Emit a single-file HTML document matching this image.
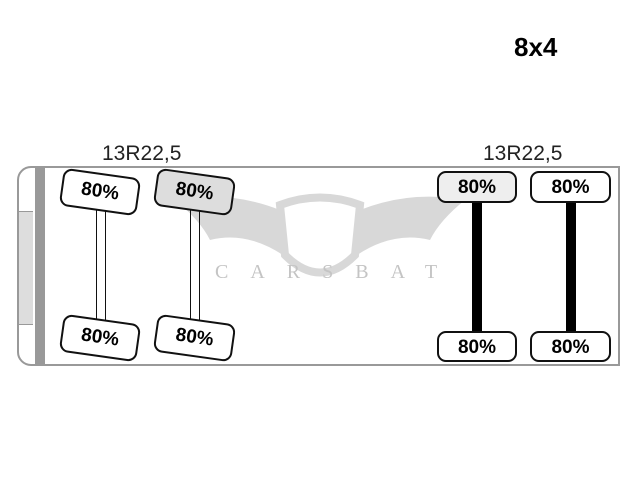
<!DOCTYPE html>
<html><head><style>
body{margin:0;width:640px;height:480px;background:#fff;position:relative;overflow:hidden;font-family:"Liberation Sans",sans-serif}
.a{position:absolute}
.t{position:absolute;border:2px solid #111;border-radius:9px;background:#fff;font:bold 19px "Liberation Sans",sans-serif;text-align:center;box-sizing:border-box}
</style></head><body>
<div class="a" style="left:514px;top:32px;font:bold 26px 'Liberation Sans',sans-serif">8x4</div>
<div class="a" style="left:102px;top:142px;font-size:21px;color:#222">13R22,5</div>
<div class="a" style="left:483px;top:142px;font-size:21px;color:#222">13R22,5</div>
<div class="a" style="left:17px;top:166px;width:603px;height:200px;border:2px solid #999;border-radius:14px 0 0 14px;box-sizing:border-box"></div>
<div class="a" style="left:35px;top:167px;width:10px;height:198px;background:#999"></div>
<div class="a" style="left:19px;top:211px;width:14px;height:112px;background:#ddd;border-top:1px solid #999;border-bottom:1px solid #999"></div>
<svg class="a" style="left:170px;top:180px" width="300" height="120">
<path d="M5 20 Q60 10 110 30 L120 80 Q80 50 40 60 Q30 40 5 20Z" fill="#d8d8d8"/>
<path d="M295 20 Q240 10 190 30 L180 80 Q220 50 260 60 Q270 40 295 20Z" fill="#d8d8d8"/>
<path d="M110 25 Q150 10 190 25 L185 75 Q150 110 115 75Z" fill="none" stroke="#d8d8d8" stroke-width="8"/>
<text x="45" y="98" font-family="Liberation Serif" font-size="20" fill="#c4c4c4" letter-spacing="22">CARSBAT</text>
</svg>
<div class="a" style="left:96px;top:205px;width:8px;height:120px;border-left:1px solid #111;border-right:1px solid #111"></div>
<div class="a" style="left:190px;top:205px;width:8px;height:120px;border-left:1px solid #111;border-right:1px solid #111"></div>
<div class="t" style="left:61px;top:173px;width:78px;height:38px;line-height:34px;transform:rotate(8deg)">80%</div>
<div class="t" style="left:155px;top:173px;width:79px;height:38px;line-height:34px;transform:rotate(8deg);background:#ddd">80%</div>
<div class="t" style="left:61px;top:319px;width:78px;height:38px;line-height:34px;transform:rotate(8deg)">80%</div>
<div class="t" style="left:155px;top:319px;width:79px;height:38px;line-height:34px;transform:rotate(8deg)">80%</div>
<div class="a" style="left:472px;top:198px;width:10px;height:136px;background:#000"></div>
<div class="a" style="left:566px;top:198px;width:10px;height:136px;background:#000"></div>
<div class="t" style="left:437px;top:171px;width:80px;height:32px;line-height:29px;background:#eee">80%</div>
<div class="t" style="left:530px;top:171px;width:81px;height:32px;line-height:29px">80%</div>
<div class="t" style="left:437px;top:331px;width:80px;height:31px;line-height:29px">80%</div>
<div class="t" style="left:530px;top:331px;width:81px;height:31px;line-height:29px">80%</div>
</body></html>
